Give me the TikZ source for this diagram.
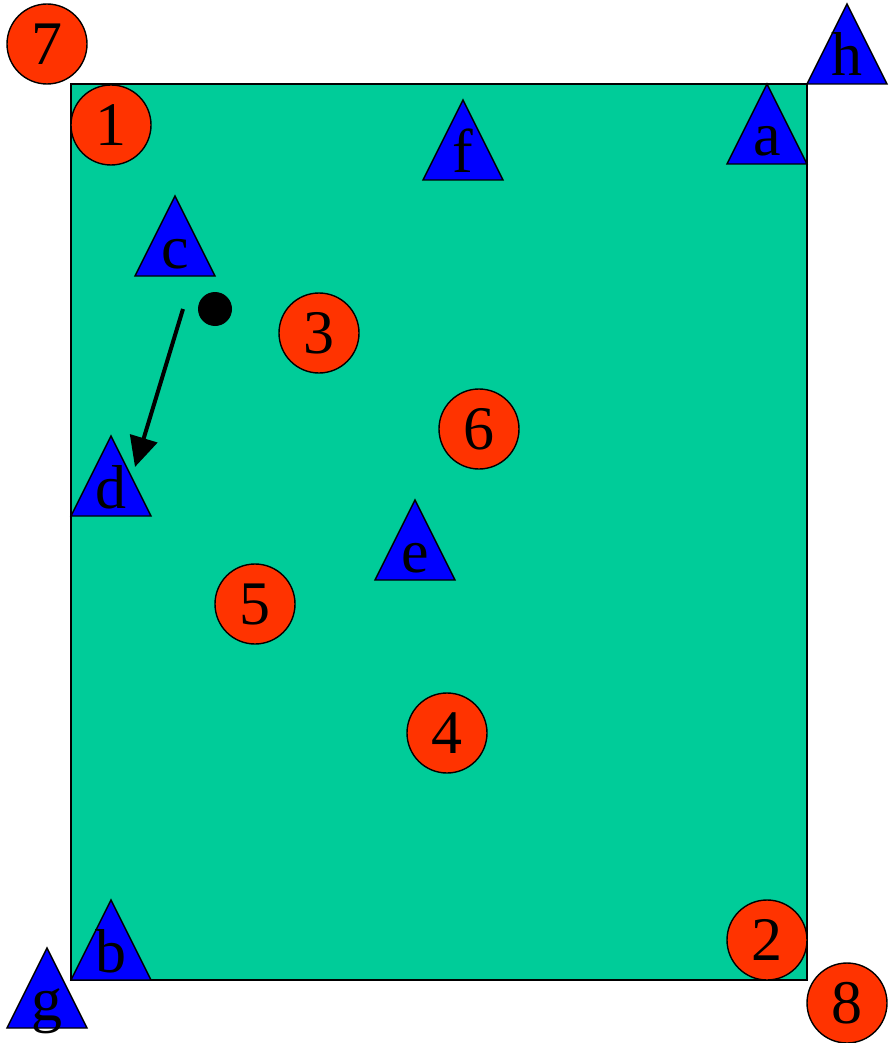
\documentclass[tikz,border=0pt]{standalone}
\usepackage{fontspec}
\setmainfont{Liberation Serif}
\usetikzlibrary{arrows.meta}
\definecolor{field}{RGB}{0,204,153}
\definecolor{disc}{RGB}{255,51,0}
\definecolor{tri}{RGB}{0,0,255}
\tikzset{
  circ/.style={circle,draw=black,line width=1.4pt,fill=disc,minimum size=80pt,inner sep=0pt,font=\fontsize{62}{62}\selectfont},
  trishape/.style={draw=black,line width=1.4pt,fill=tri,line join=miter},
  trilabel/.style={anchor=base,inner sep=0pt,font=\fontsize{62}{62}\selectfont},
  mover/.style={line width=4pt,-{Triangle[length=30pt,width=28pt]}}
}
\newcommand{\mytri}[4]{%
  \draw[trishape] (#2,#3) -- (#2+40,#3+80) -- (#2-40,#3+80) -- cycle;
  \node[trilabel] (#1) at (#2,#3+72) {#4};}
\begin{document}
\begin{tikzpicture}[x=1pt,y=-1pt]
\useasboundingbox (0,0) rectangle (888,1043);
\draw[line width=1.4pt,fill=field] (71,84) rectangle (807,980);
% circles
\node[circ] (n7) at (47,44) {7};
\node[circ] (n1) at (111,125) {1};
\node[circ] (n3) at (319,333) {3};
\node[circ] (n6) at (479,429) {6};
\node[circ] (n5) at (255,604) {5};
\node[circ] (n4) at (447,733) {4};
\node[circ] (n2) at (767,940) {2};
\node[circ] (n8) at (847,1003) {8};
% triangles
\mytri{ta}{767}{84}{a}
\mytri{th}{847}{4}{h}
\mytri{tf}{463}{100}{f}
\mytri{tc}{175}{196}{c}
\mytri{td}{111}{436}{d}
\mytri{te}{415}{500}{e}
\mytri{tb}{111}{900}{b}
\mytri{tg}{47}{948}{g}
% ball and movement
\node[circle,fill=black,minimum size=34pt,inner sep=0pt] (ball) at (215,309) {};
\coordinate (mstart) at (183,309);
\coordinate (mend) at (135,467);
\draw[mover] (mstart) -- (mend);
\end{tikzpicture}
\end{document}
